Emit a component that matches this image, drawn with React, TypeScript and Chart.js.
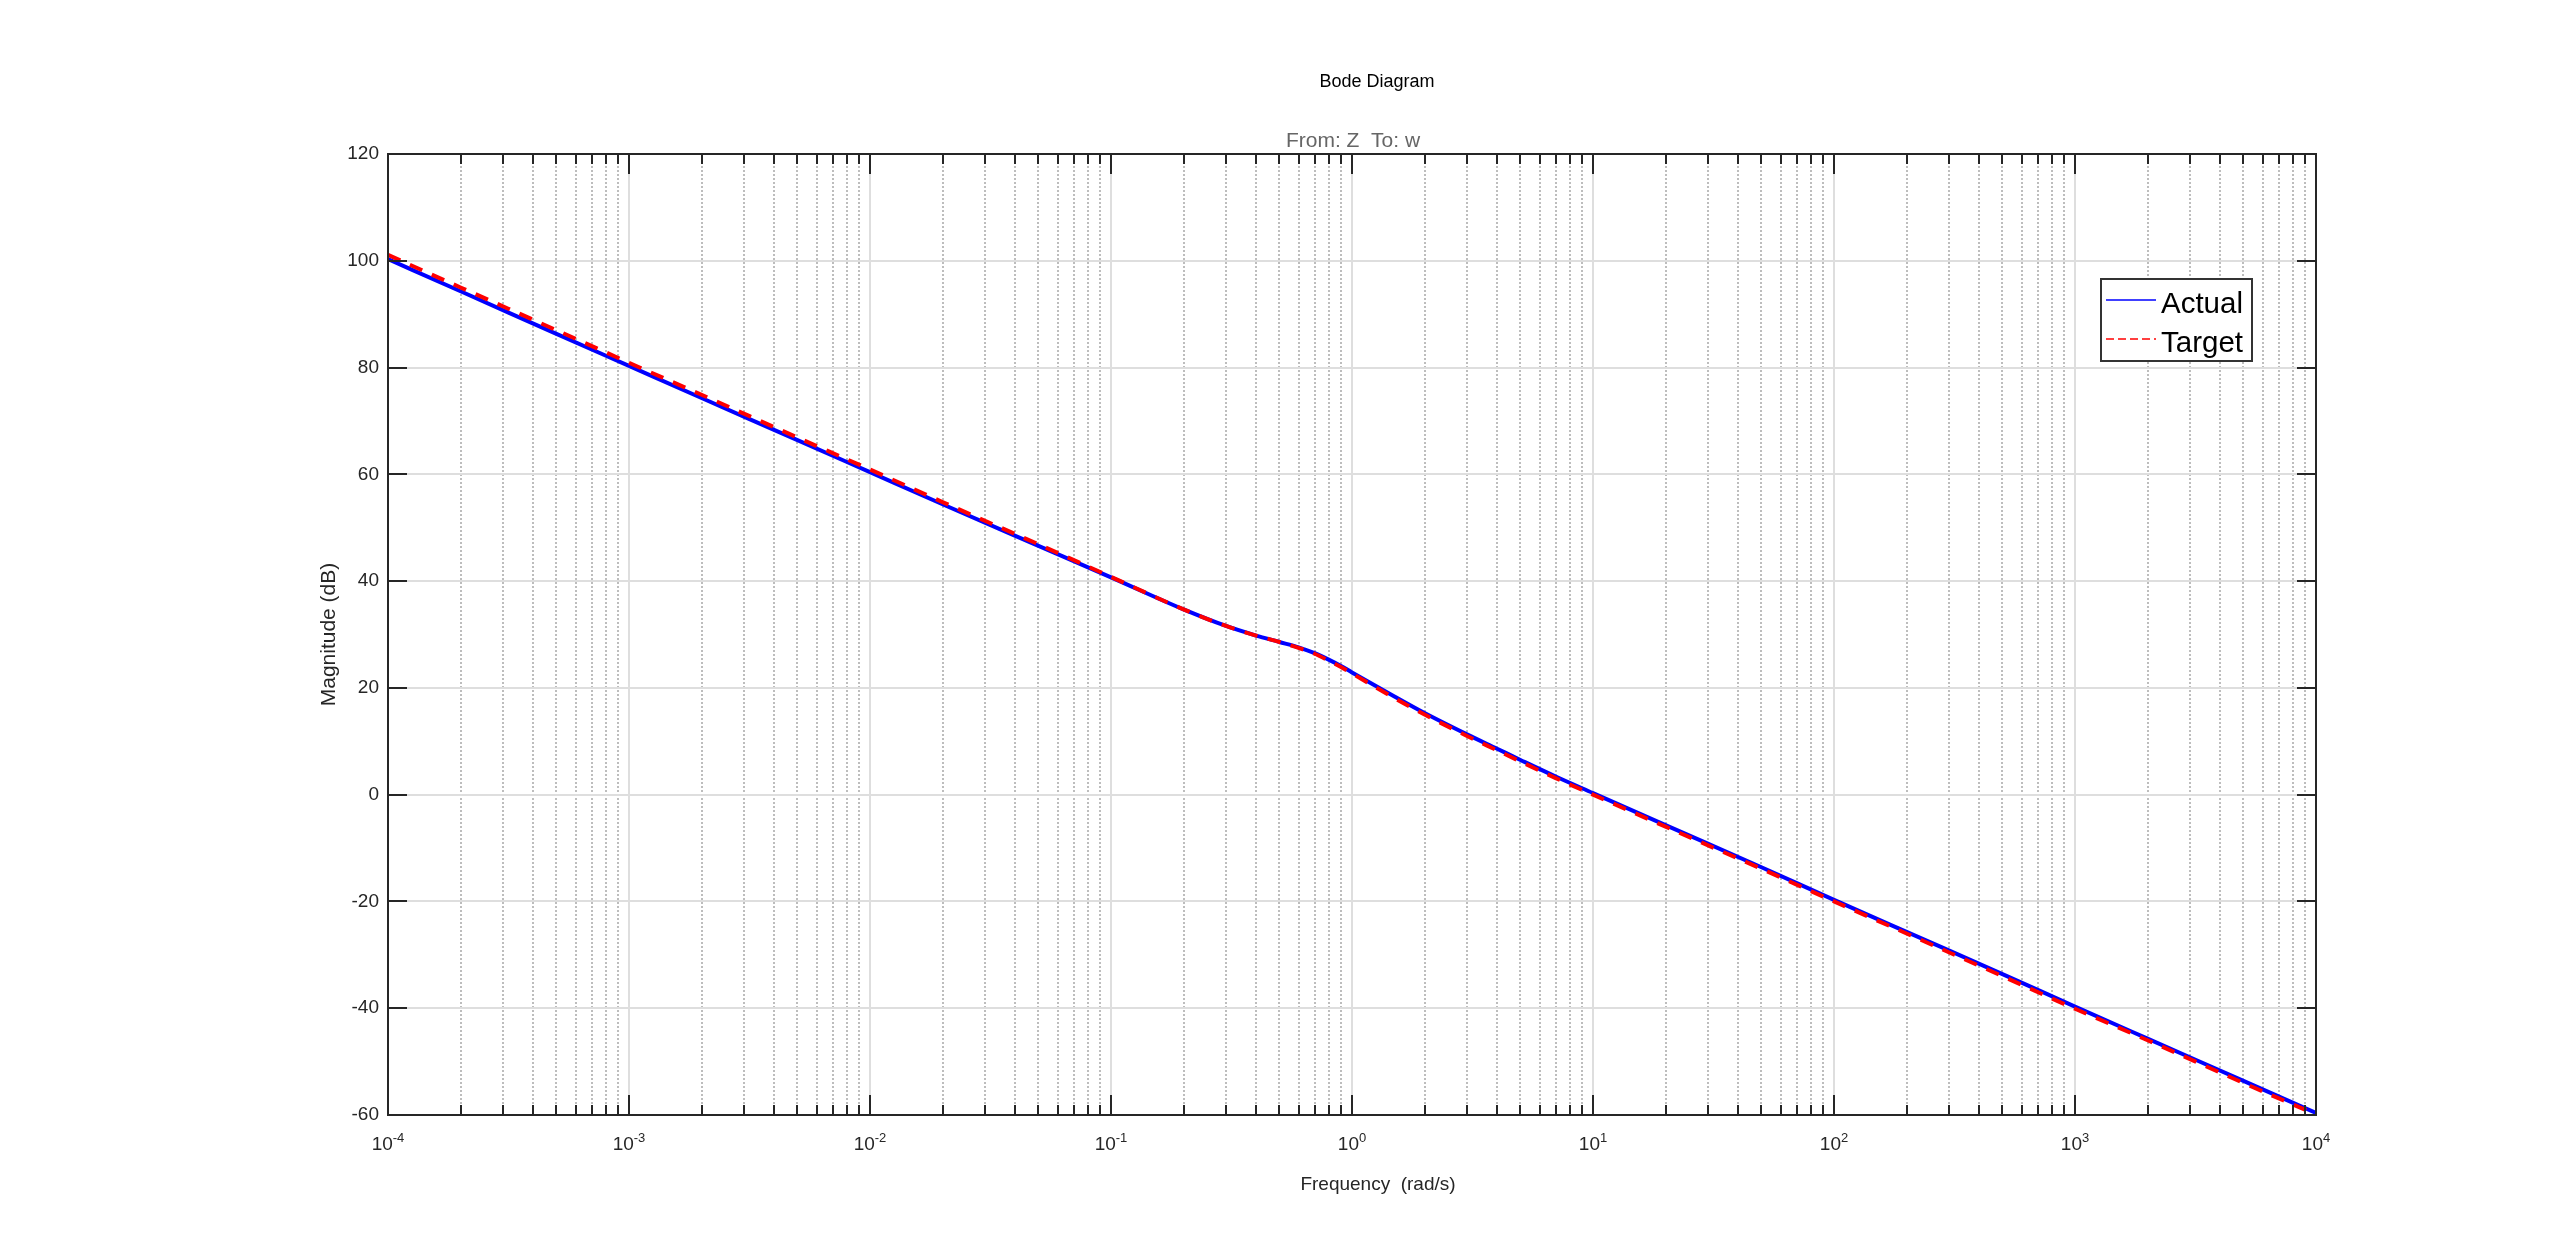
import React, { useEffect, useRef } from 'react';
import { Chart, registerables } from 'chart.js';

Chart.register(...registerables);

// ---- data ----
const FREQUENCIES = [
  1e-4, 2e-4, 5e-4, 1e-3, 2e-3, 5e-3, 1e-2, 2e-2, 5e-2, 0.1, 0.2, 0.3, 0.4, 0.5, 0.6, 0.7, 0.8, 0.9, 1,
  1.5, 2, 3, 4, 5, 7, 10, 20, 50, 100, 200, 500, 1000, 2000, 5000, 1e4,
];
const ACTUAL_DB = [
  100.3, 94.3, 86.3, 80.3, 74.3, 66.4, 60.4, 54.4, 46.6, 40.7, 34.7, 31.6, 29.8, 28.6, 27.6, 26.5, 25.3, 24.1, 22.9,
  18.4, 15.3, 11.3, 8.6, 6.5, 3.4, 0.3, -5.7, -13.6, -19.7, -25.7, -33.6, -39.7, -45.7, -53.6, -59.6,
];
const TARGET_DB = [
  101.1, 95.0, 87.0, 80.9, 74.9, 66.9, 60.9, 54.8, 46.9, 40.8, 34.7, 31.6, 29.8, 28.6, 27.5, 26.4, 25.1, 23.9, 22.7,
  18.1, 15.0, 11.0, 8.3, 6.2, 3.1, 0.0, -6.0, -13.9, -20.0, -26.0, -34.0, -40.1, -46.0, -54.0, -59.9,
];
const SERIES_LABELS = ['Actual', 'Target'];
const Y_MIN = -60;
const Y_MAX = 120;
const Y_STEP = 20;
const X_MIN = 1e-4;
const X_MAX = 1e4;
const X_DECADE_EXPONENTS = [-4, -3, -2, -1, 0, 1, 2, 3, 4];
const TITLE = 'Bode Diagram';
const SUBTITLE = 'From: Z  To: w';
const X_LABEL = 'Frequency  (rad/s)';
const Y_LABEL = 'Magnitude (dB)';

// ---- styles ----
const FONT = "'Liberation Sans', Arial, Helvetica, sans-serif";
const AXIS_COLOR = '#262626';
const MAJOR_GRID = '#dedede';
const MINOR_GRID = '#bdbdbd';

function buildXTicks() {
  const ticks: { value: number; major: boolean }[] = [];
  for (let i = 0; i < X_DECADE_EXPONENTS.length; i++) {
    const e = X_DECADE_EXPONENTS[i];
    const base = Math.pow(10, e);
    if (base > X_MAX * 1.0001) break;
    for (let m = 1; m <= 9; m++) {
      const v = Number((m * base).toPrecision(12));
      if (v > X_MAX * 1.0001) break;
      ticks.push({ value: v, major: m === 1 });
      if (e === X_DECADE_EXPONENTS[X_DECADE_EXPONENTS.length - 1]) break;
    }
  }
  return ticks;
}

const decorPlugin = {
  id: 'bodeDecor',
  afterDatasetsDraw(chart: any) {
    const { ctx, chartArea: a, scales } = chart;
    const xs = scales.x;
    const ys = scales.y;
    ctx.save();
    ctx.strokeStyle = AXIS_COLOR;
    ctx.lineWidth = 2;
    ctx.beginPath();
    xs.ticks.forEach((t: any) => {
      const px = Math.round(xs.getPixelForValue(t.value));
      const len = t.major ? 20 : 10;
      ctx.moveTo(px, a.bottom);
      ctx.lineTo(px, a.bottom - len);
      ctx.moveTo(px, a.top);
      ctx.lineTo(px, a.top + len);
    });
    ys.ticks.forEach((t: any) => {
      const py = Math.round(ys.getPixelForValue(t.value));
      ctx.moveTo(a.left, py);
      ctx.lineTo(a.left + 19, py);
      ctx.moveTo(a.right, py);
      ctx.lineTo(a.right - 19, py);
    });
    ctx.stroke();
    ctx.strokeRect(Math.round(a.left), Math.round(a.top), Math.round(a.right - a.left), Math.round(a.bottom - a.top));
    ctx.restore();
  },
  afterDraw(chart: any) {
    const { ctx, chartArea: a, scales } = chart;
    const xs = scales.x;
    const cx = (a.left + a.right) / 2;
    ctx.save();
    ctx.textBaseline = 'alphabetic';

    // titles
    ctx.fillStyle = '#000000';
    ctx.textAlign = 'center';
    ctx.font = `18px ${FONT}`;
    ctx.fillText(TITLE, cx + 25, a.top - 67);
    ctx.fillStyle = '#666666';
    ctx.font = `21px ${FONT}`;
    ctx.fillText(SUBTITLE, cx + 1, a.top - 7);

    // x tick labels 10^n
    ctx.fillStyle = AXIS_COLOR;
    ctx.textAlign = 'left';
    X_DECADE_EXPONENTS.forEach((e) => {
      const px = xs.getPixelForValue(Math.pow(10, e));
      ctx.font = `19px ${FONT}`;
      const wBase = ctx.measureText('10').width;
      ctx.font = `13px ${FONT}`;
      const expText = String(e);
      const wExp = ctx.measureText(expText).width;
      const start = px - (wBase + wExp) / 2;
      ctx.font = `19px ${FONT}`;
      ctx.fillText('10', start, a.bottom + 34.5);
      ctx.font = `13px ${FONT}`;
      ctx.fillText(expText, start + wBase, a.bottom + 26.5);
    });

    // x axis label
    ctx.textAlign = 'center';
    ctx.font = `19px ${FONT}`;
    ctx.fillStyle = AXIS_COLOR;
    ctx.fillText(X_LABEL, cx + 26, a.bottom + 74.5);

    // legend box
    const boxW = 151;
    const boxH = 82;
    const bx = a.right - 64 - boxW;
    const by = a.top + 125;
    ctx.fillStyle = '#ffffff';
    ctx.fillRect(bx, by, boxW, boxH);
    ctx.strokeStyle = '#333333';
    ctx.lineWidth = 2;
    ctx.strokeRect(bx, by, boxW, boxH);
    const rows = [by + 21, by + 60];
    chart.data.datasets.forEach((ds: any, i: number) => {
      const y = rows[i];
      ctx.save();
      ctx.strokeStyle = ds.borderColor;
      ctx.lineWidth = 1.3;
      ctx.setLineDash(ds.borderDash && ds.borderDash.length ? [8, 4] : []);
      ctx.beginPath();
      ctx.moveTo(bx + 5, y);
      ctx.lineTo(bx + 55, y);
      ctx.stroke();
      ctx.restore();
      ctx.fillStyle = '#000000';
      ctx.textAlign = 'left';
      ctx.font = `29.5px ${FONT}`;
      ctx.fillText(ds.label, bx + 60, y + 13);
    });
    ctx.restore();
  },
};

export default function App() {
  const ref = useRef<HTMLCanvasElement>(null);

  useEffect(() => {
    const canvas = ref.current;
    if (!canvas) return;
    const actualPts = FREQUENCIES.map((f, i) => ({ x: f, y: ACTUAL_DB[i] }));
    const targetPts = FREQUENCIES.map((f, i) => ({ x: f, y: TARGET_DB[i] }));
    const xTicks = buildXTicks();

    const chart = new Chart(canvas, {
      type: 'line',
      data: {
        datasets: [
          {
            label: SERIES_LABELS[0],
            data: actualPts,
            borderColor: '#0000ff',
            backgroundColor: '#0000ff',
            borderWidth: 4,
            pointRadius: 0,
            cubicInterpolationMode: 'monotone',
            fill: false,
            order: 2,
          },
          {
            label: SERIES_LABELS[1],
            data: targetPts,
            borderColor: '#ff0000',
            backgroundColor: '#ff0000',
            borderWidth: 4,
            borderDash: [13.5, 10.5],
            pointRadius: 0,
            cubicInterpolationMode: 'monotone',
            fill: false,
            order: 1,
          },
        ],
      },
      options: {
        responsive: false,
        animation: false,
        devicePixelRatio: 1,
        events: [],
        layout: { padding: { left: 0, right: 244, top: 154, bottom: 0 } },
        plugins: {
          legend: { display: false },
          title: { display: false },
          tooltip: { enabled: false },
        },
        scales: {
          x: {
            type: 'logarithmic',
            min: X_MIN,
            max: X_MAX,
            afterBuildTicks: (scale: any) => {
              scale.ticks = xTicks.map((t) => ({ value: t.value, major: t.major }));
            },
            afterFit: (scale: any) => {
              scale.height = 139;
            },
            ticks: { display: false },
            grid: {
              drawTicks: false,
              color: (c: any) => (c.tick && c.tick.major ? MAJOR_GRID : MINOR_GRID),
              lineWidth: 2,
            },
            border: {
              display: false,
              dash: (c: any) => (c.tick && !c.tick.major ? [2, 2] : []),
            },
            title: { display: false },
          },
          y: {
            type: 'linear',
            min: Y_MIN,
            max: Y_MAX,
            afterFit: (scale: any) => {
              scale.width = 388;
            },
            ticks: {
              stepSize: Y_STEP,
              padding: 9,
              color: AXIS_COLOR,
              font: { family: FONT, size: 19 },
            },
            grid: { drawTicks: false, color: MAJOR_GRID, lineWidth: 2 },
            border: { display: false },
            title: {
              display: true,
              text: Y_LABEL,
              color: AXIS_COLOR,
              font: { family: FONT, size: 21 },
              padding: { top: 317, bottom: 0 },
            },
          },
        },
      },
      plugins: [decorPlugin],
    } as any);

    return () => chart.destroy();
  }, []);

  return (
    <div style={{ position: 'absolute', left: 0, top: 0, width: 2560, height: 1254, background: '#ffffff', overflow: 'hidden' }}>
      <canvas ref={ref} width={2560} height={1254} style={{ display: 'block', width: 2560, height: 1254 }} />
    </div>
  );
}
